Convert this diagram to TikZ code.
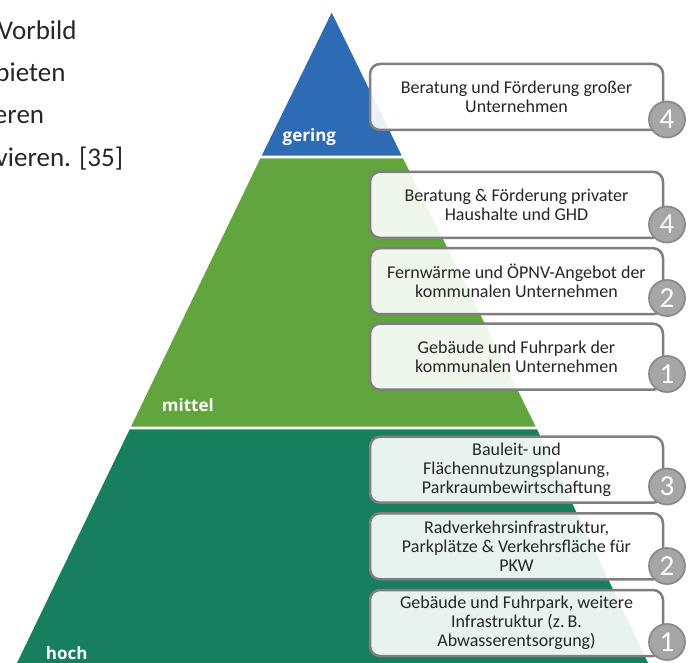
\documentclass[tikz,border=0pt]{standalone}
\usepackage{fontspec}
\setmainfont{Carlito}
\newfontfamily\lblfont{Open Sans}
\definecolor{pblue}{HTML}{2D6BB5}
\definecolor{pgreen}{HTML}{62A53E}
\definecolor{pdark}{HTML}{177E5E}
\definecolor{boxline}{HTML}{7F7F7F}
\definecolor{circfill}{HTML}{A6A6A6}
\definecolor{circline}{HTML}{8A8A8A}
\definecolor{txt}{HTML}{262626}
\tikzset{
  lefttext/.style={inner sep=0pt, anchor=base east, text=txt, font=\fontsize{27}{30}\selectfont},
  levellabel/.style={inner sep=0pt, anchor=base west, text=white, font=\lblfont\bfseries\fontsize{17}{20}\selectfont},
  itembox/.style={rectangle, rounded corners=10pt, draw=boxline, line width=2.5pt,
    fill=white, fill opacity=0.9, text opacity=1, text=txt,
    minimum width=293pt, minimum height=66pt, inner sep=0pt, align=center,
    font=\fontsize{18}{19}\selectfont},
  numcirc/.style={circle, fill=circfill, draw=circline, line width=1.8pt,
    minimum size=36pt, inner sep=0pt, text=white, font=\fontsize{29}{29}\selectfont}
}
\begin{document}
\begin{tikzpicture}[x=1pt,y=-1pt]
\useasboundingbox (0,0) rectangle (690,663);
\clip (0,0) rectangle (690,663);
% cut-off body text on the left
\node[lefttext] (t1) at (76.7,39.3) {Vorbild};
\node[lefttext] (t2) at (65.7,81.7) {bieten};
\node[lefttext] (t3) at (44.3,124.0) {eren};
\node[lefttext] (t4) at (123.3,166.7) {vieren. [35]};
% pyramid
\fill[pblue] (331.7,12.7) -- (401.7,155.7) -- (261.7,155.7) -- cycle;
\fill[pgreen] (260.4,158.3) -- (403.0,158.3) -- (535.7,426.7) -- (131.0,426.7) -- cycle;
\fill[pdark] (129.7,429.3) -- (537.0,429.3) -- (648.0,663) -- (17.0,663) -- cycle;
\node[levellabel] (lg) at (282.5,141.7) {gering};
\node[levellabel] (lm) at (161.7,411.7) {mittel};
\node[levellabel] (lh) at (45.7,659.0) {hoch};
% boxes
\node[itembox] (b1) at (516.5,97.0) {Beratung und Förderung großer\\Unternehmen};
\node[itembox] (b2) at (516.5,204.8) {Beratung \& Förderung privater\\Haushalte und GHD};
\node[itembox] (b3) at (516.5,281.2) {Fernwärme und ÖPNV-Angebot der\\kommunalen Unternehmen};
\node[itembox] (b4) at (516.5,356.7) {Gebäude und Fuhrpark der\\kommunalen Unternehmen};
\node[itembox] (b5) at (516.5,469.7) {Bauleit- und\\Flächennutzungsplanung,\\Parkraumbewirtschaftung};
\node[itembox] (b6) at (516.5,546.3) {Radverkehrsinfrastruktur,\\Parkplätze \& Verkehrsfläche für\\PKW};
\node[itembox] (b7) at (516.5,623.0) {Gebäude und Fuhrpark, weitere\\Infrastruktur (z.\,B.\\Abwasserentsorgung)};
% number circles
\node[numcirc] (c1) at (667,119.5) {4};
\node[numcirc] (c2) at (667,224.5) {4};
\node[numcirc] (c3) at (667,298.0) {2};
\node[numcirc] (c4) at (667,374.0) {1};
\node[numcirc] (c5) at (667,486.5) {3};
\node[numcirc] (c6) at (667,566.0) {2};
\node[numcirc] (c7) at (667,642.0) {1};
\end{tikzpicture}
\end{document}
